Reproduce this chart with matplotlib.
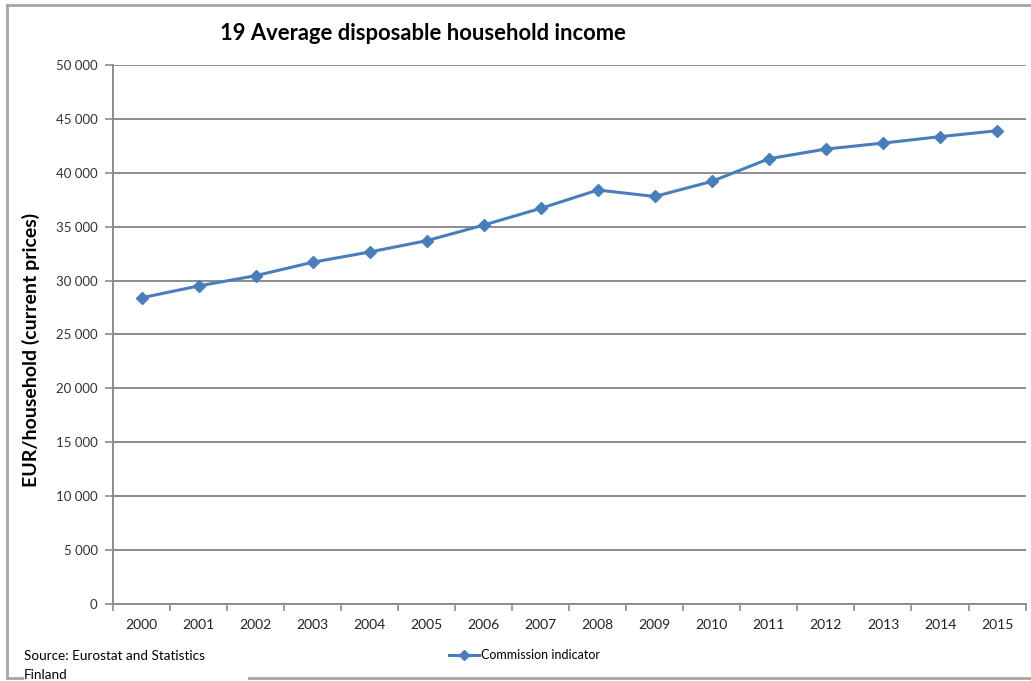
import matplotlib.pyplot as plt
from matplotlib.lines import Line2D

plt.rcParams['font.family'] = ['Lato', 'DejaVu Sans']

years = ['2000', '2001', '2002', '2003', '2004', '2005', '2006', '2007',
         '2008', '2009', '2010', '2011', '2012', '2013', '2014', '2015']
income = [28400, 29500, 30450, 31700, 32650, 33700, 35150, 36700,
          38400, 37800, 39200, 41300, 42200, 42750, 43350, 43900]
y_ticks = [0, 5000, 10000, 15000, 20000, 25000, 30000, 35000, 40000, 45000, 50000]
y_labels = ['{:,}'.format(v).replace(',', ' ') for v in y_ticks]

line_color = '#4a7ebb'
grid_color = '#8c8c8c'
frame_color = '#a6a6a6'

fig = plt.figure(figsize=(10.31, 6.81), dpi=100)
ax = fig.add_axes([0.1096, 0.1131, 0.8851, 0.7915])

x = list(range(len(years)))
ax.plot(x, income, color=line_color, lw=2.2, marker='D', ms=6,
        markeredgecolor=line_color, zorder=3)

ax.set_xlim(-0.5, len(years) - 0.5)
ax.set_ylim(0, 50000)
ax.set_yticks(y_ticks)
ax.set_yticklabels(y_labels, fontsize=9.5, color='#333333')
ax.set_xticks(x)
ax.set_xticklabels(years, fontsize=10, color='#222222')
ax.set_xticks([i - 0.5 for i in range(len(years) + 1)], minor=True)
ax.tick_params(axis='x', which='major', length=0, pad=11)
ax.tick_params(axis='x', which='minor', length=5, width=1.2, color=grid_color, direction='out')
ax.tick_params(axis='y', length=6, width=1.2, color=grid_color, pad=5)

ax.yaxis.grid(True, color=grid_color, lw=1.4)
ax.set_axisbelow(True)
for s in ['top', 'right']:
    ax.spines[s].set_visible(False)
for s in ['left', 'bottom']:
    ax.spines[s].set_color(grid_color)
    ax.spines[s].set_linewidth(1.4)

ax.set_ylabel('EUR/household (current prices)', fontsize=14, fontweight='bold')
ax.yaxis.set_label_coords(-0.08, 0.472)

fig.text(0.41, 0.951, '19 Average disposable household income', fontsize=15.8,
         fontweight='bold', ha='center', va='center')

# outer frame
fig.add_artist(Line2D([0.007, 0.999], [0.992, 0.992], color=frame_color, lw=2))
fig.add_artist(Line2D([0.007, 0.007], [0.992, 0.005], color=frame_color, lw=2))
fig.add_artist(Line2D([0.007, 0.021], [0.005, 0.005], color=frame_color, lw=2))
fig.add_artist(Line2D([0.2415, 0.999], [0.005, 0.005], color=frame_color, lw=2))

fig.text(0.023, 0.036, 'Source: Eurostat and Statistics', fontsize=9.7, va='center')
fig.text(0.023, 0.009, 'Finland', fontsize=9.7, va='center')

leg = fig.legend([Line2D([], [], color=line_color, lw=2.2, marker='D', ms=5)],
                 ['Commission indicator'], loc='center left',
                 bbox_to_anchor=(0.425, 0.038), frameon=False, fontsize=9,
                 handlelength=2.4, handletextpad=0.1)

fig.savefig('out.png', dpi=100)
